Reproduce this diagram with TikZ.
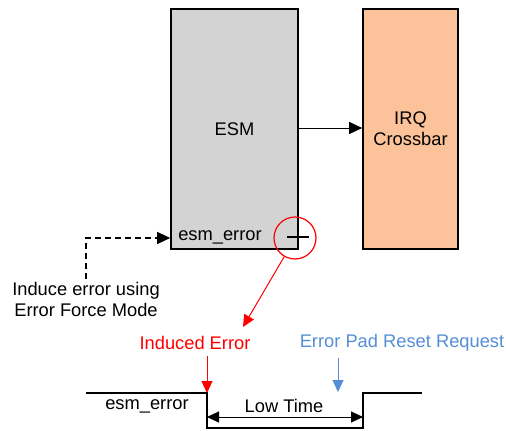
\documentclass[tikz,border=0pt]{standalone}
\usepackage{fontspec}
\setmainfont{Liberation Sans}
\usetikzlibrary{arrows.meta}
\definecolor{esmgray}{RGB}{211,211,211}
\definecolor{irqpeach}{RGB}{252,194,153}
\definecolor{padblue}{RGB}{85,142,213}
\begin{document}
\begin{tikzpicture}[x=1pt,y=-1pt,
  every node/.style={font=\fontsize{18.3}{21}\selectfont, inner sep=0pt},
  block/.style={draw=black, line width=1.6pt, minimum width=#1, minimum height=240pt, align=center},
  bigtip/.style={-{Triangle[length=13pt,width=12pt]}},
  tip/.style={-{Triangle[length=12pt,width=11pt]}},
  wire/.style={line width=1pt}]
\useasboundingbox (0,0) rectangle (506,431);

% blocks
\node[block=127pt, fill=esmgray] (esm) at (234.5,129) {ESM};
\node[block=95pt, fill=irqpeach] (irq) at (410.5,129) {IRQ\\Crossbar};
\draw[wire, bigtip] (esm.east |- 0,128) -- (irq.west |- 0,128);

% esm_error output pin
\node (pin) at (220,237) {esm\_error};
\coordinate (pinA) at (287,237);
\coordinate (pinB) at (309,237);
\draw[line width=1.6pt] (pinA) -- (pinB);

% induce error path
\node[align=center] (induce) at (86,299) {Induce error using\\Error Force Mode};
\coordinate (bend) at (86,238);
\draw[line width=1.2pt, dash pattern=on 6pt off 4pt, bigtip] (induce.north -| bend) ++(0,-3) -- (bend) -- (esm.west |- bend);

% highlight circle and pointer
\node[draw=red, line width=1.2pt, circle, minimum size=42pt] (ring) at (295,238) {};
\node[text=red] (induced) at (195,343) {Induced Error};
\node[text=padblue] (padreq) at (402,343) {Error Pad Reset Request};
\coordinate (ptr) at (243,327);
\draw[red, wire, tip] (ring.240) -- (ptr);

% waveform
\coordinate (w0) at (86,393);
\coordinate (w1) at (207,393);
\coordinate (w2) at (207,428);
\coordinate (w3) at (363,428);
\coordinate (w4) at (363,393);
\coordinate (w5) at (422,393);
\draw[line width=1.2pt] (w0) -- (w1) -- (w2) -- (w3) -- (w4) -- (w5);
\node (sig) at (147,406) {esm\_error};
\node (low) at (284,406) {Low Time};
\draw[wire, {Triangle[length=12pt,width=11pt]}-{Triangle[length=12pt,width=11pt]}] (207,417) -- (363,417);

% event markers
\draw[red, wire, tip] (induced.south -| w1) ++(0,6) -- (w1);
\coordinate (padmark) at (338,392);
\draw[padblue, wire, tip] (padreq.south -| padmark) ++(0,6) -- (padmark);
\end{tikzpicture}
\end{document}
